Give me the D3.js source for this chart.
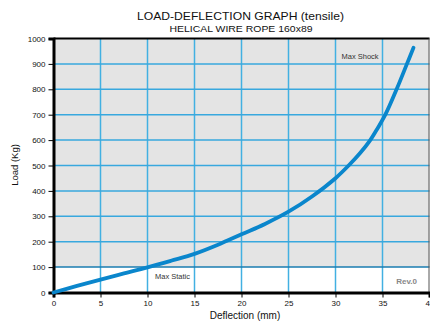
<!DOCTYPE html>
<html>
<head>
<meta charset="utf-8">
<script src="https://cdn.jsdelivr.net/npm/d3@7"></script>
<style>
  html, body { margin: 0; padding: 0; background: #fff; }
  svg { display: block; font-family: "Liberation Sans", Arial, sans-serif; }
</style>
</head>
<body>
<svg id="chart" width="430" height="322"></svg>
<script>
// Load-deflection curve of the helical wire rope (tensile)
const deflection = [0, 2.5, 5, 7.5, 10, 12.5, 15, 17.5, 20, 22.5, 25, 27.5, 30, 31.4, 32.6, 33.7, 34.5, 35.3, 36.5, 37.6, 38.3];
const load       = [0, 26, 51, 75, 99, 125, 152, 188, 229, 270, 318, 378, 450, 500, 548, 600, 648, 700, 800, 900, 964];

const xTicks = [0, 5, 10, 15, 20, 25, 30, 35, 40];
const yTicks = [0, 100, 200, 300, 400, 500, 600, 700, 800, 900, 1000];

const maxStatic = 100;
const titleText = "LOAD-DEFLECTION GRAPH (tensile)";
const subtitleText = "HELICAL WIRE ROPE 160x89";

const svg = d3.select("#chart");
const plotLeft = 53.5, plotRight = 429.5, plotTop = 38.5, plotBottom = 292.5;

const x = d3.scaleLinear().domain([0, 40]).range([plotLeft, plotRight]);
const y = d3.scaleLinear().domain([0, 1000]).range([plotBottom, plotTop]);

// grey field above the max static load
svg.append("rect")
  .attr("x", x(0)).attr("y", y(1000))
  .attr("width", x(40) - x(0)).attr("height", y(maxStatic) - y(1000))
  .attr("fill", "#e4e4e4");

// grid
const grid = svg.append("g");
grid.selectAll("line.v").data(xTicks.filter(d => d > 0 && d < 40)).join("line")
  .attr("x1", d => x(d)).attr("x2", d => x(d))
  .attr("y1", y(1000)).attr("y2", y(0))
  .attr("stroke", "#42b0e2").attr("stroke-width", 1.5);
grid.selectAll("line.h").data(yTicks.filter(d => d > 0 && d < 1000)).join("line")
  .attr("x1", x(0)).attr("x2", x(40))
  .attr("y1", d => y(d)).attr("y2", d => y(d))
  .attr("stroke", d => d === maxStatic ? "#1a7db0" : "#38a8de")
  .attr("stroke-width", 1.5);

// frame
svg.append("line").attr("x1", x(0)).attr("x2", x(40)).attr("y1", y(1000)).attr("y2", y(1000))
  .attr("stroke", "#000").attr("stroke-width", 2);
svg.append("line").attr("x1", x(40) - 0.5).attr("x2", x(40) - 0.5).attr("y1", y(1000)).attr("y2", y(0))
  .attr("stroke", "#555").attr("stroke-width", 1);

// axes
const yAxis = d3.axisLeft(y).tickValues(yTicks).tickSize(5).tickPadding(3).tickFormat(d3.format("d"));
const xAxis = d3.axisBottom(x).tickValues(xTicks).tickSize(5).tickPadding(3).tickFormat(d3.format("d"));

const gy = svg.append("g").attr("transform", `translate(${x(0)},0)`).call(yAxis);
const gx = svg.append("g").attr("transform", `translate(0,${y(0)})`).call(xAxis);
[gx, gy].forEach(g => {
  g.select(".domain").attr("stroke", "#000").attr("stroke-width", 3);
  g.selectAll(".tick line").attr("stroke", "#000").attr("stroke-width", 1);
  g.selectAll(".tick text").attr("fill", "#111").style("font-size", "8px")
    .style("font-family", "'Liberation Sans', Arial, sans-serif");
});

// curve
const line = d3.line()
  .x((d, i) => x(deflection[i]))
  .y(d => y(d))
  .curve(d3.curveCatmullRom.alpha(0.5));
svg.append("path")
  .datum(load)
  .attr("d", line)
  .attr("fill", "none")
  .attr("stroke", "#0a86cc")
  .attr("stroke-width", 3.8)
  .attr("stroke-linecap", "round");

// annotations
svg.append("text").attr("x", 341.5).attr("y", 58.5).text("Max Shock")
  .attr("font-size", 7.5).attr("fill", "#333");
svg.append("text").attr("x", 155).attr("y", 278.5).text("Max Static")
  .attr("font-size", 7.5).attr("fill", "#333");
svg.append("text").attr("x", 417).attr("y", 283.5).attr("text-anchor", "end")
  .attr("font-size", 8).attr("fill", "#888").attr("font-weight", "bold").text("Rev.0");

// titles
svg.append("text").attr("x", 240.5).attr("y", 20).attr("text-anchor", "middle")
  .attr("font-size", 10.5).attr("fill", "#111")
  .attr("textLength", 207).attr("lengthAdjust", "spacingAndGlyphs").text(titleText);
svg.append("text").attr("x", 241).attr("y", 32).attr("text-anchor", "middle")
  .attr("font-size", 9).attr("fill", "#111")
  .attr("textLength", 143).attr("lengthAdjust", "spacingAndGlyphs").text(subtitleText);
svg.append("text").attr("x", 245).attr("y", 319).attr("text-anchor", "middle")
  .attr("font-size", 10).attr("fill", "#111").text("Deflection (mm)");
svg.append("text").attr("transform", `translate(18,165) rotate(-90)`).attr("text-anchor", "middle")
  .attr("font-size", 9.5).attr("fill", "#111").text("Load (Kg)");
</script>
</body>
</html>
